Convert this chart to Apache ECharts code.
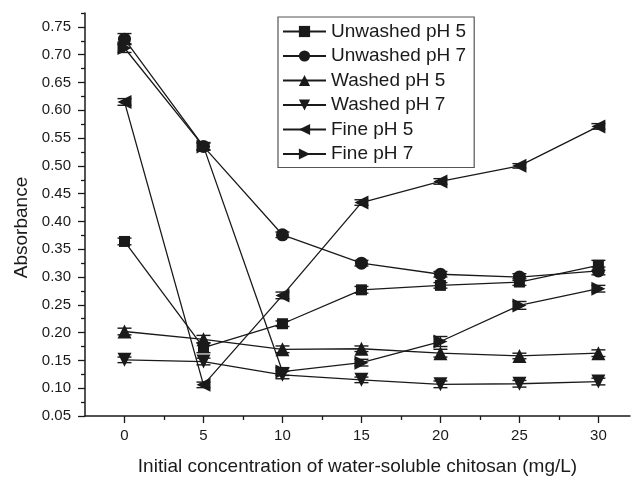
<!DOCTYPE html>
<html>
<head>
<meta charset="utf-8">
<script src="https://cdn.jsdelivr.net/npm/echarts@6/dist/echarts.min.js"></script>
<style>
  html, body { margin: 0; padding: 0; background: #fff; }
  #chart { width: 631px; height: 481px; }
</style>
</head>
<body>
<div id="chart"></div>
<script>
const concentraciones = [0, 5, 10, 15, 20, 25, 30];

const unwashedPH5 = [0.364, 0.173, 0.216, 0.277, 0.285, 0.291, 0.321];
const unwashedPH7 = [0.728, 0.535, 0.376, 0.325, 0.305, 0.300, 0.311];
const washedPH5   = [0.202, 0.188, 0.170, 0.171, 0.163, 0.158, 0.163];
const washedPH7   = [0.151, 0.148, 0.124, 0.115, 0.107, 0.108, 0.112];
const finePH5     = [0.615, 0.106, 0.267, 0.434, 0.472, 0.500, 0.571];
const finePH7     = [0.712, 0.535, 0.130, 0.146, 0.184, 0.249, 0.279];

// error bars (+/-)
const unwashedPH5Err = [0.006, 0.009, 0.005, 0.006, 0.005, 0.006, 0.009];
const unwashedPH7Err = [0.010, 0.006, 0.005, 0.005, 0.005, 0.006, 0.007];
const washedPH5Err   = [0.006, 0.007, 0.006, 0.005, 0.007, 0.005, 0.006];
const washedPH7Err   = [0.005, 0.006, 0.007, 0.005, 0.006, 0.006, 0.006];
const finePH5Err     = [0.006, 0.005, 0.006, 0.005, 0.005, 0.004, 0.005];
const finePH7Err     = [0.008, 0.007, 0.007, 0.006, 0.009, 0.007, 0.006];

const xTicks = [0, 5, 10, 15, 20, 25, 30];
const xMinorTicks = [2.5, 7.5, 12.5, 17.5, 22.5, 27.5];
const yTicks = [0.05, 0.10, 0.15, 0.20, 0.25, 0.30, 0.35, 0.40, 0.45, 0.50, 0.55, 0.60, 0.65, 0.70, 0.75];
const yMinorTicks = [0.075, 0.125, 0.175, 0.225, 0.275, 0.325, 0.375, 0.425, 0.475, 0.525, 0.575, 0.625, 0.675, 0.725, 0.775];

const fuente = "'Liberation Sans', Arial, sans-serif";
const negro = '#1a1a1a';

const grupos = [
  { name: 'Unwashed pH 5', values: unwashedPH5, err: unwashedPH5Err, symbol: 'rect', size: 11, rotate: 0 },
  { name: 'Unwashed pH 7', values: unwashedPH7, err: unwashedPH7Err, symbol: 'circle', size: 13, rotate: 0 },
  { name: 'Washed pH 5', values: washedPH5, err: washedPH5Err, symbol: 'triangle', size: 14, rotate: 0 },
  { name: 'Washed pH 7', values: washedPH7, err: washedPH7Err, symbol: 'triangle', size: 14, rotate: 180 },
  { name: 'Fine pH 5', values: finePH5, err: finePH5Err, symbol: 'triangle', size: 14, rotate: 90 },
  { name: 'Fine pH 7', values: finePH7, err: finePH7Err, symbol: 'triangle', size: 14, rotate: -90 }
];

const series = [];
grupos.forEach(function (g) {
  series.push({
    name: g.name + ' err',
    type: 'custom',
    xAxisIndex: 0,
    yAxisIndex: 0,
    silent: true,
    z: 1,
    data: concentraciones.map(function (x, i) { return [x, g.values[i] - g.err[i], g.values[i] + g.err[i]]; }),
    renderItem: function (params, api) {
      const lo = api.coord([api.value(0), api.value(1)]);
      const hi = api.coord([api.value(0), api.value(2)]);
      const w = 7;
      const st = { stroke: negro, lineWidth: 1.4 };
      return {
        type: 'group',
        children: [
          { type: 'line', shape: { x1: lo[0], y1: lo[1], x2: hi[0], y2: hi[1] }, style: st },
          { type: 'line', shape: { x1: lo[0] - w, y1: lo[1], x2: lo[0] + w, y2: lo[1] }, style: st },
          { type: 'line', shape: { x1: hi[0] - w, y1: hi[1], x2: hi[0] + w, y2: hi[1] }, style: st }
        ]
      };
    }
  });
  series.push({
    name: g.name,
    type: 'line',
    xAxisIndex: 0,
    yAxisIndex: 0,
    z: 2,
    data: concentraciones.map(function (x, i) { return [x, g.values[i]]; }),
    symbol: g.symbol,
    symbolSize: g.size,
    symbolRotate: g.rotate,
    showSymbol: true,
    lineStyle: { color: negro, width: 1.3 },
    itemStyle: { color: negro, borderWidth: 0 },
    animation: false
  });
});

const chart = echarts.init(document.getElementById('chart'));
chart.setOption({
  animation: false,
  backgroundColor: '#fff',
  textStyle: { fontFamily: fuente },
  grid: { left: 85, right: 1, top: 13, bottom: 61, containLabel: false },
  legend: {
    data: grupos.map(function (g) { return g.name; }),
    orient: 'vertical',
    left: 278,
    top: 17,
    padding: [5, 8, 4, 4],
    itemWidth: 43,
    itemHeight: 14,
    itemGap: 5.5,
    borderColor: '#555',
    borderWidth: 1.2,
    textStyle: { fontFamily: fuente, fontSize: 19, color: negro, lineHeight: 18 }
  },
  xAxis: [
    {
      type: 'value',
      min: -2.5,
      max: 32,
      name: 'Initial concentration of water-soluble chitosan (mg/L)',
      nameLocation: 'middle',
      nameGap: 41,
      nameTextStyle: { fontFamily: fuente, fontSize: 19, color: negro },
      axisLine: { show: true, onZero: false, lineStyle: { color: negro, width: 1.5 } },
      axisTick: { show: true, customValues: xTicks, length: 7, inside: false, lineStyle: { color: negro, width: 1.3 } },
      axisLabel: { customValues: xTicks, margin: 12, fontFamily: fuente, fontSize: 15, color: negro },
      splitLine: { show: false }
    },
    {
      type: 'value',
      min: -2.5,
      max: 32,
      position: 'bottom',
      axisLine: { show: false, onZero: false },
      axisTick: { show: true, customValues: xMinorTicks, length: 4, lineStyle: { color: negro, width: 1.3 } },
      axisLabel: { show: false },
      splitLine: { show: false }
    }
  ],
  yAxis: [
    {
      type: 'value',
      min: 0.05,
      max: 0.775,
      name: 'Absorbance',
      nameLocation: 'middle',
      nameGap: 54,
      nameTextStyle: { fontFamily: fuente, fontSize: 19, color: negro, padding: [0, 26, 0, 0] },
      axisLine: { show: true, onZero: false, lineStyle: { color: negro, width: 1.5 } },
      axisTick: { show: true, customValues: yTicks, length: 7, lineStyle: { color: negro, width: 1.3 } },
      axisLabel: {
        customValues: yTicks,
        margin: 14,
        fontFamily: fuente,
        fontSize: 15,
        color: negro,
        formatter: function (v) { return v.toFixed(2); }
      },
      splitLine: { show: false }
    },
    {
      type: 'value',
      min: 0.05,
      max: 0.775,
      position: 'left',
      axisLine: { show: false, onZero: false },
      axisTick: { show: true, customValues: yMinorTicks, length: 4, lineStyle: { color: negro, width: 1.3 } },
      axisLabel: { show: false },
      splitLine: { show: false }
    }
  ],
  series: series
});
</script>
</body>
</html>
